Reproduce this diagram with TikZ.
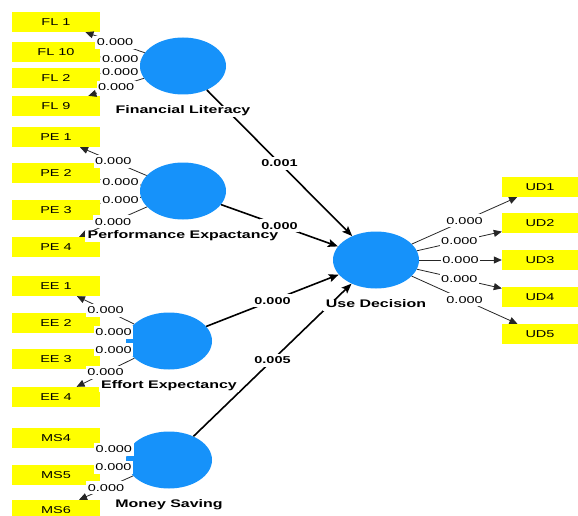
\documentclass[tikz,border=0pt]{standalone}
\usepackage{fontspec}
\setmainfont{Liberation Sans}[FakeStretch=1.45]
\usetikzlibrary{positioning,arrows.meta,shapes.geometric}
\definecolor{lvblue}{RGB}{22,146,250}
\definecolor{mvyellow}{RGB}{255,255,0}

\begin{document}
\begin{tikzpicture}[x=1pt, y=-1pt,
    latent/.style={ellipse, fill=lvblue, minimum width=86pt, minimum height=57pt, inner sep=0pt},
    lvname/.style={fill=white, inner xsep=2.5pt, inner ysep=1pt, text height=7pt, text depth=2pt, font=\fontsize{11}{13}\selectfont\bfseries},
    indicator/.style={fill=mvyellow, minimum width=88pt, minimum height=20pt, inner sep=0pt, font=\fontsize{10}{12}\selectfont},
    udbox/.style={indicator, minimum width=76pt},
    coef/.style={midway, fill=white, inner xsep=1.5pt, inner ysep=3pt, text height=7pt, text depth=0pt, font=\fontsize{10}{12}\selectfont},
    loading/.style={-{Triangle[length=8pt,width=7pt]}, draw=black!85, line width=0.8pt},
    structural/.style={-{Stealth[length=10pt,width=8pt,inset=2pt]}, draw=black, line width=1.6pt}]
    \useasboundingbox (0,0) rectangle (578,516);

    % latent variables
    \node[latent] (FL) at (183,66) {};
    \node[latent] (PE) at (183,191) {};
    \node[latent] (EE) at (169,341) {};
    \node[latent] (MS) at (169,460) {};
    \node[latent] (UD) at (376,260) {};

    % indicators
    \foreach \nm/\txt/\y in {FL1/FL 1/22, FL10/FL 10/52, FL2/FL 2/78, FL9/FL 9/106,
                             PE1/PE 1/137, PE2/PE 2/173, PE3/PE 3/210, PE4/PE 4/247,
                             EE1/EE 1/286, EE2/EE 2/323, EE3/EE 3/359, EE4/EE 4/397,
                             MS4/MS4/438, MS5/MS5/475, MS6/MS6/510}
        \node[indicator] (\nm) at (56,\y) {\txt};
    \foreach \nm/\y in {UD1/187, UD2/223, UD3/260, UD4/297, UD5/334}
        \node[udbox] (\nm) at (540,\y) {\nm};

    % outer loadings
    \foreach \lv/\mv in {FL/FL1, FL/FL10, FL/FL2, FL/FL9, PE/PE1, PE/PE2, PE/PE3, PE/PE4,
                         EE/EE1, EE/EE2, EE/EE3, EE/EE4, MS/MS4, MS/MS5, MS/MS6,
                         UD/UD1, UD/UD2, UD/UD3, UD/UD4, UD/UD5}
        \draw[loading] (\lv) -- (\mv) node[coef] {0.000};

    % path coefficients
    \draw[structural] (FL) -- (UD) node[coef, font=\fontsize{10}{12}\selectfont\bfseries] {0.001};
    \draw[structural] (PE) -- (UD) node[coef, font=\fontsize{10}{12}\selectfont\bfseries] {0.000};
    \draw[structural] (EE) -- (UD) node[coef, font=\fontsize{10}{12}\selectfont\bfseries] {0.000};
    \draw[structural] (MS) -- (UD) node[coef, font=\fontsize{10}{12}\selectfont\bfseries] {0.005};

    % construct names
    \node[lvname, below=11pt of FL] (FLname) {Financial Literacy};
    \node[lvname, below=11pt of PE] (PEname) {Performance Expactancy};
    \node[lvname, below=11pt of EE] (EEname) {Effort Expectancy};
    \node[lvname, below=11pt of MS] (MSname) {Money Saving};
    \node[lvname, below=11pt of UD] (UDname) {Use Decision};
\end{tikzpicture}
\end{document}
